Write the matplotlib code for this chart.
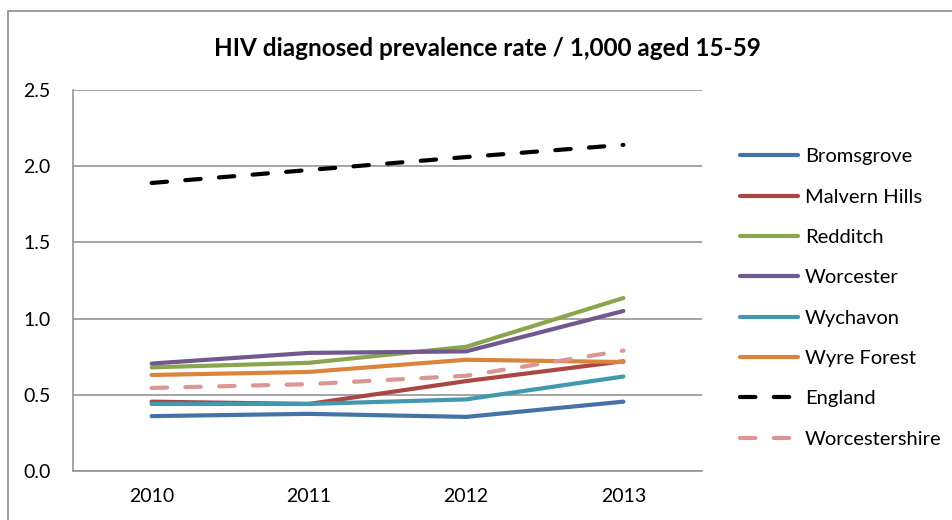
import matplotlib
matplotlib.use("Agg")
import matplotlib.pyplot as plt
from matplotlib.patches import Rectangle
import numpy as np

plt.rcParams['font.family'] = ['Lato', 'DejaVu Sans']

years = ['2010', '2011', '2012', '2013']

bromsgrove = [0.36, 0.375, 0.355, 0.455]
malvern_hills = [0.455, 0.44, 0.59, 0.72]
redditch = [0.68, 0.71, 0.815, 1.135]
worcester = [0.705, 0.775, 0.785, 1.05]
wychavon = [0.44, 0.44, 0.47, 0.62]
wyre_forest = [0.63, 0.65, 0.73, 0.715]
england = [1.89, 1.975, 2.06, 2.14]
worcestershire = [0.545, 0.57, 0.625, 0.79]

series = [
    ('Bromsgrove', bromsgrove, '#4573A7', '-'),
    ('Malvern Hills', malvern_hills, '#AA4643', '-'),
    ('Redditch', redditch, '#89A54E', '-'),
    ('Worcester', worcester, '#71588F', '-'),
    ('Wychavon', wychavon, '#4198AF', '-'),
    ('Wyre Forest', wyre_forest, '#DB843D', '-'),
    ('England', england, '#000000', '--'),
    ('Worcestershire', worcestershire, '#D99694', '--'),
]

W, H = 952, 520
fig = plt.figure(figsize=(W / 100, H / 100), dpi=100)
ax = fig.add_axes([73 / W, 1 - 471 / H, (702 - 73) / W, (471 - 90) / H])

x = np.arange(len(years))
handles = []
for name, vals, col, ls in series:
    line, = ax.plot(x, vals, color=col, lw=3, solid_capstyle='round',
                    dash_capstyle='round', label=name)
    if ls == '--':
        line.set_dashes((3.7, 4.4))
    handles.append(line)

ax.set_xlim(-0.5, len(years) - 0.5)
ax.set_ylim(0, 2.5)
ax.set_yticks(np.arange(0, 2.51, 0.5))
ax.set_yticklabels([f'{v:.1f}' for v in np.arange(0, 2.51, 0.5)])
ax.set_xticks(x)
ax.set_xticklabels(years)
ax.tick_params(axis='both', length=0, labelsize=14, colors='#000000')
ax.tick_params(axis='y', pad=16)
ax.tick_params(axis='x', pad=12)
ax.yaxis.grid(True, color='#8C8C8C', lw=1.1)
ax.set_axisbelow(True)
for s in ['top', 'right']:
    ax.spines[s].set_visible(False)
for s in ['left', 'bottom']:
    ax.spines[s].set_color('#8C8C8C')
    ax.spines[s].set_linewidth(1.1)

fig.text(487 / W, 1 - 48 / H, 'HIV diagnosed prevalence rate / 1,000 aged 15-59',
         ha='center', va='center', fontsize=17.5, fontweight='bold')

fig.legend(handles=handles, loc='upper left',
           bbox_to_anchor=(722 / W, 1 - 130 / H), frameon=False,
           fontsize=14.5, handlelength=2.88, handletextpad=0.35,
           labelspacing=1.155)

# outer chart border
fig.add_artist(Rectangle((8 / W, -0.1), 1.2, 1.1 - 11 / H, transform=fig.transFigure,
                         fill=False, edgecolor='#8C8C8C', lw=1.2))

fig.savefig('out.png', dpi=100)
